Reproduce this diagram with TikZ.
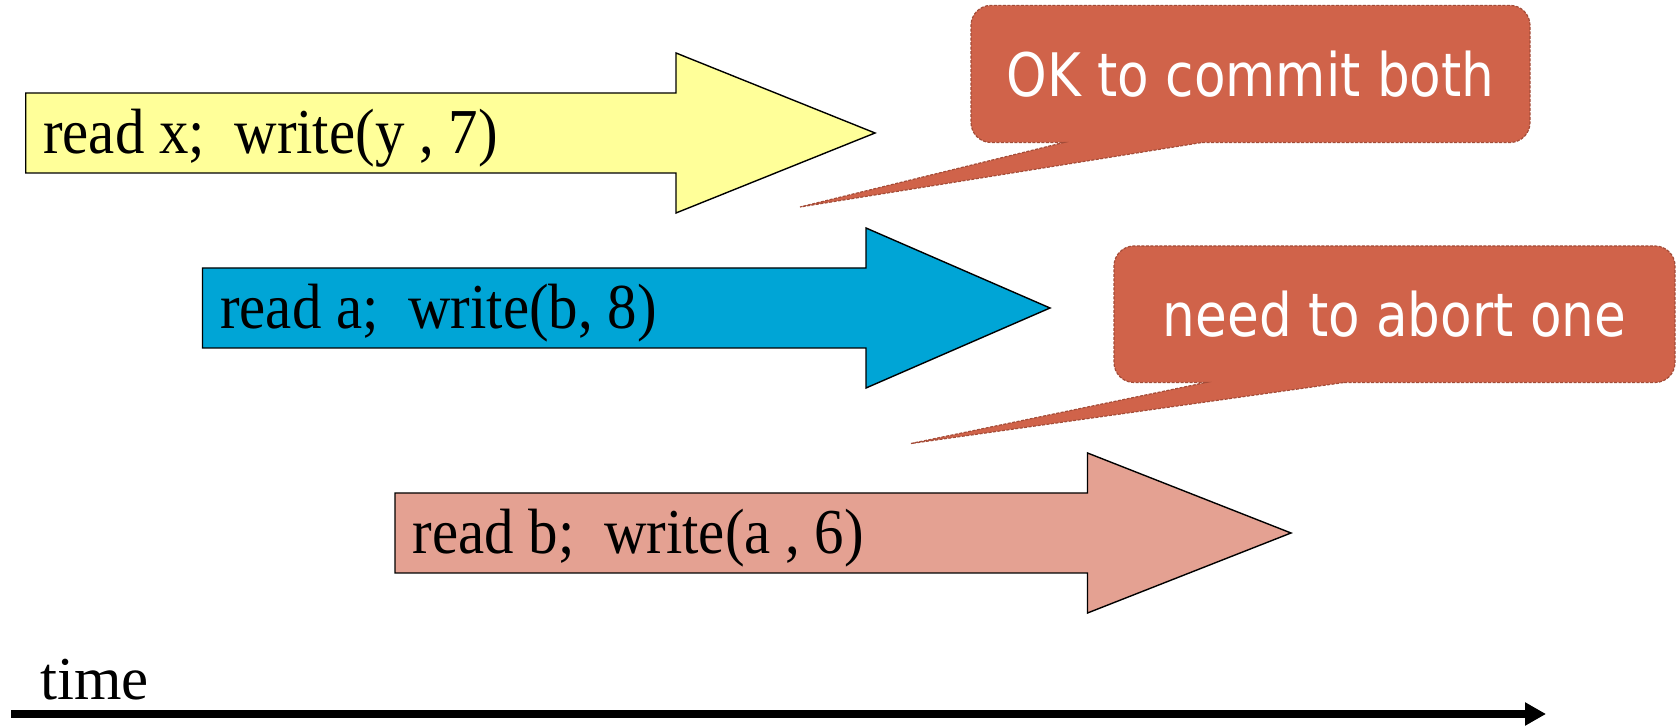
\documentclass[tikz,border=0pt]{standalone}
\usepackage{fontspec}
\setmainfont{Liberation Serif}
\newfontfamily\opfont[FakeStretch=0.92]{Liberation Serif}
\newfontfamily\bubblefont[FakeStretch=0.86]{DejaVu Sans}
\usetikzlibrary{arrows.meta}

\definecolor{txyellow}{HTML}{FFFF99}
\definecolor{txblue}{HTML}{00A5D6}
\definecolor{txpink}{HTML}{E4A192}
\definecolor{bubblefill}{HTML}{D0634A}
\definecolor{bubbleedge}{HTML}{A34C38}

% block arrow: #1 style, #2 left x, #3 head start x, #4 tip x, #5 centre y
\newcommand\blockarrow[5]{%
  \draw[#1] (#2,#5-40) -- (#3,#5-40) -- (#3,#5-80) -- (#4,#5)
    -- (#3,#5+80) -- (#3,#5+40) -- (#2,#5+40) -- cycle;}

% speech bubble: #1 left, #2 right, #3 bottom, #4 top,
% #5/#6 pointer base x, #7 pointer tip (coordinate name)
\newcommand\bubble[7]{%
  \draw[bubblestyle] (#6,#3) -- (#2-20,#3)
    arc[start angle=-90,end angle=0,radius=20] -- (#2,#4-20)
    arc[start angle=0,end angle=90,radius=20] -- (#1+20,#4)
    arc[start angle=90,end angle=180,radius=20] -- (#1,#3+20)
    arc[start angle=180,end angle=270,radius=20] -- (#5,#3)
    -- (#7) -- cycle;}

\tikzset{
  arrowedge/.style={draw=black,line width=1.4pt,line join=miter},
  optext/.style={anchor=base west,inner sep=0pt,font=\opfont\fontsize{64}{74}\selectfont},
  timetext/.style={anchor=base west,inner sep=0pt,font=\fontsize{61}{70}\selectfont},
  bubblestyle/.style={fill=bubblefill,draw=bubbleedge,line width=1.2pt,
    dash pattern=on 3pt off 1.5pt},
  bubbletext/.style={inner sep=0pt,text=white,font=\bubblefont\fontsize{60}{70}\selectfont},
}

\begin{document}
\begin{tikzpicture}[x=1pt,y=1pt]
\useasboundingbox (0,0) rectangle (1680,725);

% three transactions as block arrows
\blockarrow{arrowedge,fill=txyellow}{25.7}{676}{875}{592}
\node[optext] (t1) at (43,571) {read x;\ \ write(y , 7)};

\blockarrow{arrowedge,fill=txblue}{202.5}{866}{1050}{417}
\node[optext] (t2) at (220,396.5) {read a;\ \ write(b, 8)};

\blockarrow{arrowedge,fill=txpink}{395}{1087.5}{1291}{192}
\node[optext] (t3) at (412.5,171.5) {read b;\ \ write(a , 6)};

% commit decisions
\coordinate (tip1) at (800,518);
\bubble{971}{1530}{582.5}{719.6}{1064}{1202}{tip1}
\node[bubbletext] (c1) at (1250.5,651) {OK to commit both};

\coordinate (tip2) at (911,281.5);
\bubble{1114}{1675}{342.5}{479}{1206}{1344}{tip2}
\node[bubbletext] (c2) at (1394.5,410.75) {need to abort one};

% time axis
\node[timetext] (tlabel) at (40,25) {time};
\coordinate (tstart) at (11,11);
\coordinate (tend) at (1546,11);
\draw[line width=8.5pt,-{Triangle[length=21pt,width=22pt]}] (tstart) -- (tend);
\end{tikzpicture}
\end{document}
